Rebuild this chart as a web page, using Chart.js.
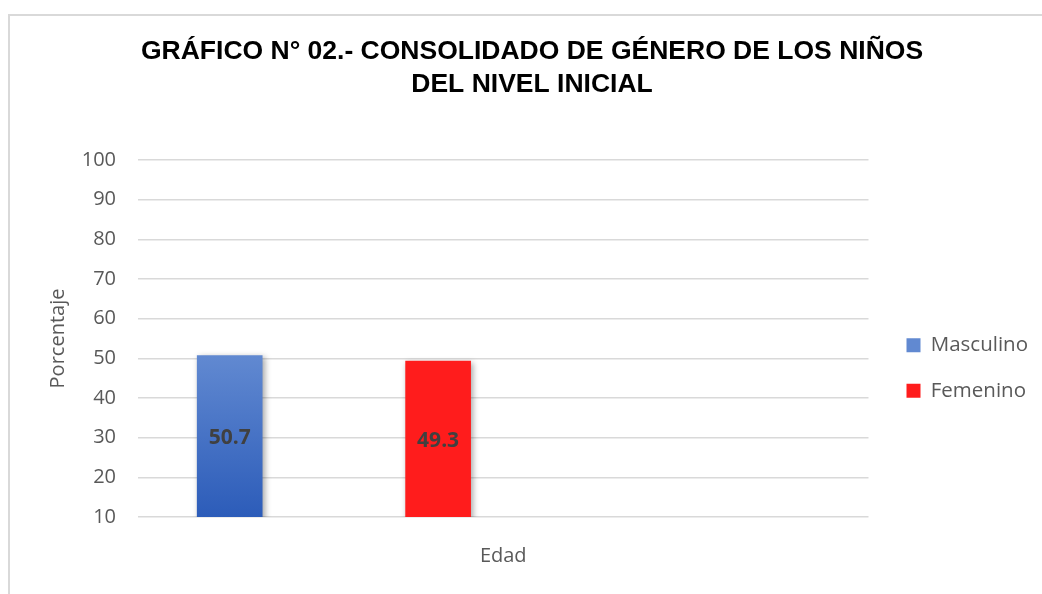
<!DOCTYPE html>
<html lang="es">
<head>
<meta charset="utf-8">
<title>Consolidado de género</title>
<script src="https://cdn.jsdelivr.net/npm/chart.js@4.4.1/dist/chart.umd.min.js"></script>
<style>
  html, body { margin: 0; padding: 0; background: #ffffff; }
  #marco {
    position: absolute;
    left: 8px;
    top: 14px;
    width: 1034px;
    height: 580px;
    border-left: 2px solid #d9d9d9;
    border-top: 2px solid #d9d9d9;
  }
  #grafico { display: block; }
</style>
</head>
<body>
<div id="marco">
  <canvas id="grafico" width="1032" height="578"></canvas>
</div>
<script>
// Datos del gráfico
const titulo = ['GRÁFICO N° 02.- CONSOLIDADO DE GÉNERO DE LOS NIÑOS', 'DEL NIVEL INICIAL'];
const generos = ['Masculino', 'Femenino'];
const porcentajes = [50.7, 49.3];
const ticksY = [10, 20, 30, 40, 50, 60, 70, 80, 90, 100];
const tituloX = 'Edad';
const tituloY = 'Porcentaje';

const grisTexto = '#595959';

// Degradado azul de arriba hacia abajo de la barra
function rellenoAzul(context) {
  const chart = context.chart;
  const area = chart.chartArea;
  if (!area || !chart.scales.y) return '#4472c4';
  const topeBarra = chart.scales.y.getPixelForValue(porcentajes[0]);
  const g = chart.ctx.createLinearGradient(0, topeBarra, 0, area.bottom);
  g.addColorStop(0, '#6189d1');
  g.addColorStop(1, '#2c5cb9');
  return g;
}

const coloresBarra = [rellenoAzul, '#ff1c1c'];

// Sombra de las barras y etiqueta del valor
const etiquetasBarras = {
  id: 'etiquetasBarras',
  beforeDatasetsDraw(chart) {
    const ctx = chart.ctx;
    ctx.save();
    ctx.shadowColor = 'rgba(0, 0, 0, 0.35)';
    ctx.shadowBlur = 6;
    ctx.shadowOffsetX = 2;
    ctx.shadowOffsetY = 2;
  },
  afterDatasetsDraw(chart) {
    const ctx = chart.ctx;
    ctx.restore();
    ctx.save();
    ctx.font = 'bold 21px "Open Sans", sans-serif';
    ctx.fillStyle = '#404040';
    ctx.textAlign = 'center';
    ctx.textBaseline = 'middle';
    chart.data.datasets.forEach((ds, i) => {
      const meta = chart.getDatasetMeta(i);
      if (meta.hidden) return;
      meta.data.forEach((bar, j) => {
        const valor = ds.data[j].y;
        const base = Math.min(bar.base, chart.chartArea.bottom);
        ctx.fillText(valor.toFixed(1), bar.x, (bar.y + base) / 2 + 2);
      });
    });
    ctx.restore();
  }
};

const datasets = generos.map((nombre, i) => ({
  label: nombre,
  data: [{ x: i * 2 + 1, y: porcentajes[i] }],
  backgroundColor: coloresBarra[i],
  borderWidth: 0,
  barThickness: 65,
  grouped: false
}));

const ctx = document.getElementById('grafico').getContext('2d');
const chart = new Chart(ctx, {
  type: 'bar',
  data: { datasets: datasets },
  options: {
    responsive: false,
    animation: false,
    layout: {
      padding: { left: 16, right: 4, top: 0, bottom: 26 }
    },
    scales: {
      x: {
        type: 'linear',
        offset: false,
        min: 0.12,
        max: 7.13,
        grid: { display: false, drawTicks: false },
        border: { display: false },
        ticks: { display: false },
        title: {
          display: true,
          text: tituloX,
          color: grisTexto,
          font: { family: 'Open Sans', size: 20 },
          padding: { top: 27, bottom: 0 }
        }
      },
      y: {
        min: ticksY[0],
        max: ticksY[ticksY.length - 1],
        afterBuildTicks(scale) {
          scale.ticks = ticksY.map(v => ({ value: v }));
        },
        afterFit(scale) {
          scale.width = 112;
        },
        grid: { color: '#d9d9d9', lineWidth: 1.5, drawTicks: false },
        border: { display: false },
        ticks: {
          color: grisTexto,
          padding: 22,
          font: { family: 'Open Sans', size: 20 }
        },
        title: {
          display: true,
          text: tituloY,
          color: grisTexto,
          font: { family: 'Open Sans', size: 20 },
          padding: { top: 20, bottom: 0 }
        }
      },
      espacio: {
        type: 'linear',
        position: 'right',
        display: true,
        grid: { display: false, drawTicks: false },
        border: { display: false },
        ticks: { display: false },
        afterFit(scale) {
          scale.width = 13;
        }
      }
    },
    plugins: {
      title: {
        display: true,
        text: titulo,
        color: '#000000',
        font: { family: 'Liberation Sans', size: 26.5, weight: 'bold', lineHeight: 1.245 },
        padding: { top: 19, bottom: 59 }
      },
      legend: {
        position: 'right',
        title: {
          display: true,
          text: '',
          font: { size: 10, lineHeight: 1.2 },
          padding: 70
        },
        labels: {
          color: grisTexto,
          boxWidth: 14,
          boxHeight: 14,
          padding: 25,
          font: { family: 'Open Sans', size: 20.5 }
        }
      },
      tooltip: { enabled: false }
    }
  },
  plugins: [etiquetasBarras]
});
</script>
</body>
</html>
